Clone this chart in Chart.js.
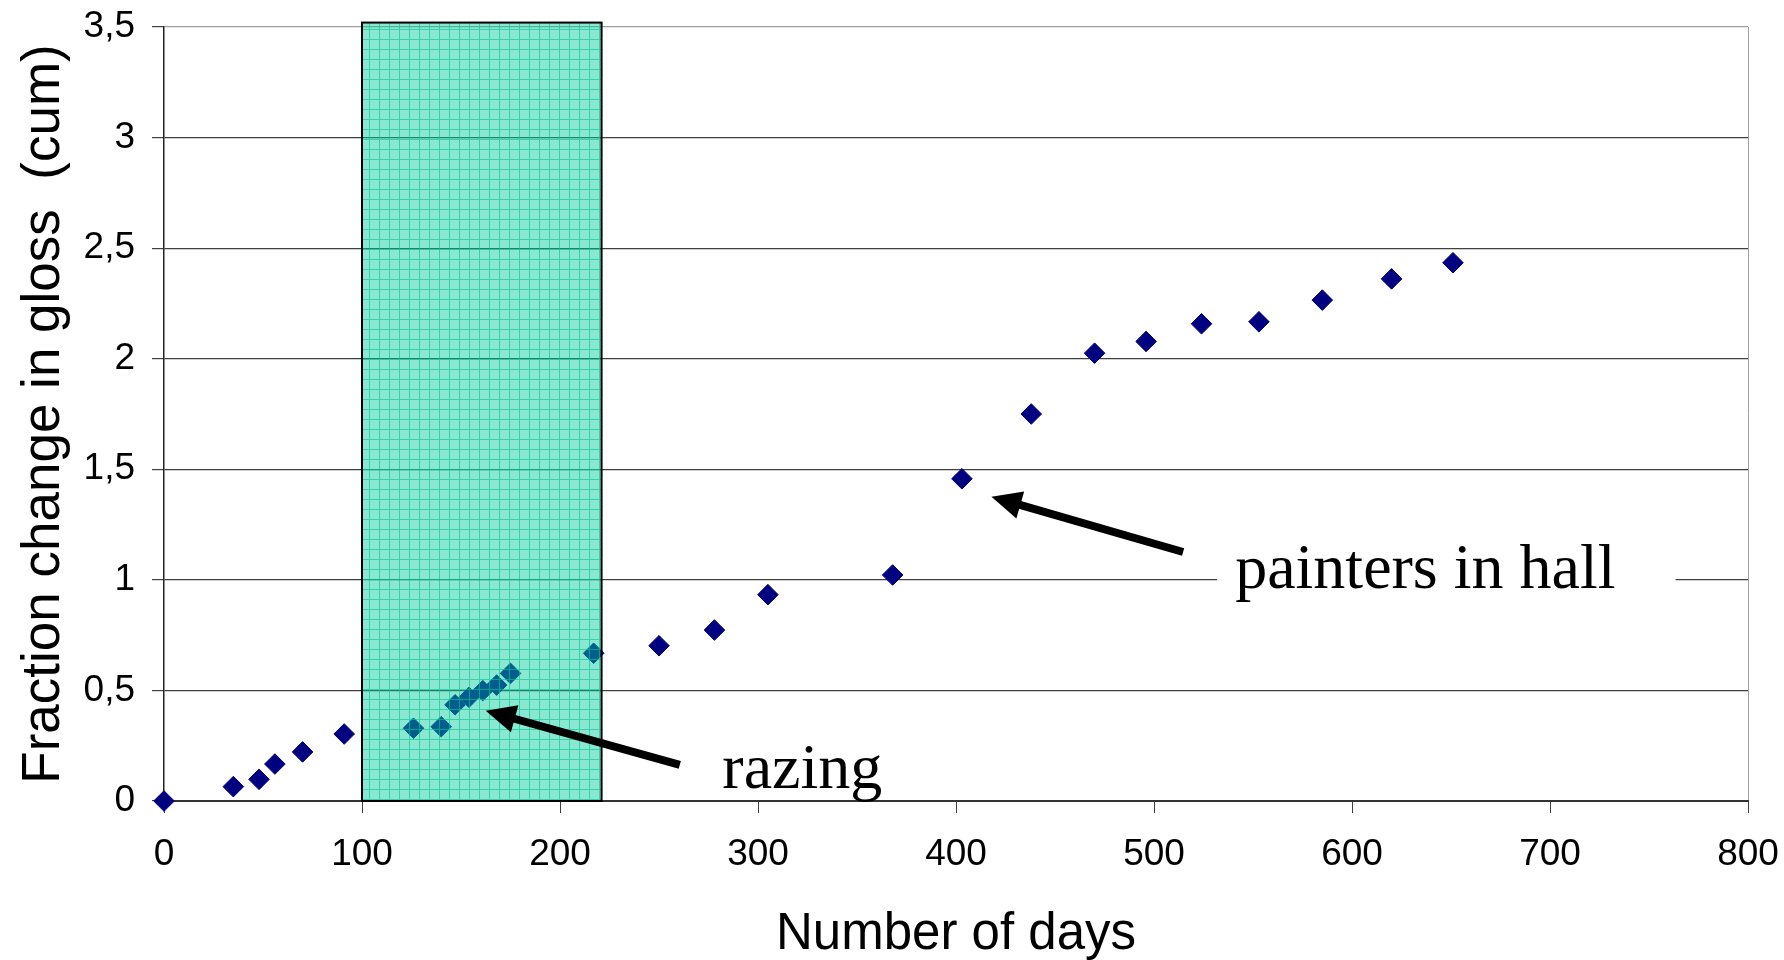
<!DOCTYPE html>
<html>
<head>
<meta charset="utf-8">
<script src="https://cdn.jsdelivr.net/npm/chart.js@4/dist/chart.umd.min.js"></script>
<style>
  html, body { margin: 0; padding: 0; background: #fff; }
  #wrap { width: 1784px; height: 960px; }
</style>
</head>
<body>
<div id="wrap"><canvas id="gloss" width="1784" height="960"></canvas></div>
<script>
// Gloss change vs. days, with the razing period shaded and two callouts.
const days = [0, 35, 48, 56, 70, 91, 126, 140, 147, 154, 161, 168, 175, 217, 250, 278, 305, 368, 403, 438, 470, 496, 524, 553, 585, 620, 651];
const gloss = [0, 0.065, 0.098, 0.167, 0.222, 0.303, 0.329, 0.336, 0.435, 0.469, 0.499, 0.524, 0.577, 0.668, 0.702, 0.773, 0.933, 1.022, 1.457, 1.75, 2.025, 2.078, 2.158, 2.167, 2.265, 2.361, 2.434];

const xTicks = [0, 100, 200, 300, 400, 500, 600, 700, 800];
const yTicks = [0, 0.5, 1, 1.5, 2, 2.5, 3, 3.5];

// shaded period (days) and its top (gloss units)
const shadeDays = [100, 221];
const shadeTop = 3.52;

// callouts: label, arrow tail [day, value], arrow tip [day, value], text anchor [day, value]
const notes = [
  { text: 'razing', tail: [260.5, 0.163], tip: [162.5, 0.408], at: [282, 0.06], size: 64, box: false },
  { text: 'painters in hall', tail: [514.7, 1.126], tip: [417.9, 1.376], at: [541, 0.965], size: 64, box: true }
];

const SANS = '"Liberation Sans", Arial, sans-serif';
const SERIF = '"Liberation Serif", "Times New Roman", serif';

function makePattern() {
  const p = document.createElement('canvas');
  p.width = 10; p.height = 10;
  const c = p.getContext('2d');
  c.fillStyle = 'rgba(0,203,156,0.46)';
  c.fillRect(0, 0, 10, 10);
  c.clearRect(0, 9, 10, 1); c.clearRect(9, 0, 1, 10);
  c.fillStyle = 'rgba(0,200,145,0.8)';
  c.fillRect(0, 9, 10, 1); c.fillRect(9, 0, 1, 9);
  return document.getElementById('gloss').getContext('2d').createPattern(p, 'repeat');
}

const shadePlugin = {
  id: 'shade',
  afterDatasetsDraw(chart) {
    const { ctx, scales: { x, y } } = chart;
    const l = x.getPixelForValue(shadeDays[0]), r = x.getPixelForValue(shadeDays[1]);
    const t = y.getPixelForValue(shadeTop), b = y.getPixelForValue(0);
    ctx.save();
    ctx.fillStyle = makePattern();
    ctx.fillRect(l, t, r - l, b - t);
    ctx.strokeStyle = '#000';
    ctx.lineWidth = 2;
    ctx.strokeRect(l, t, r - l, b - t);
    ctx.restore();
  }
};

const notesPlugin = {
  id: 'notes',
  afterDraw(chart) {
    const { ctx, scales: { x, y } } = chart;
    notes.forEach((n) => {
      const tx = x.getPixelForValue(n.at[0]), ty = y.getPixelForValue(n.at[1]);
      ctx.save();
      ctx.font = n.size + 'px ' + SERIF;
      const w = ctx.measureText(n.text).width;
      if (n.box) {
        ctx.fillStyle = '#fff';
        ctx.fillRect(tx - 18, ty - 52, w + 78, 70);
      }
      ctx.fillStyle = '#000';
      ctx.textBaseline = 'alphabetic';
      ctx.fillText(n.text, tx, ty);

      // arrow
      const x0 = x.getPixelForValue(n.tail[0]), y0 = y.getPixelForValue(n.tail[1]);
      const x1 = x.getPixelForValue(n.tip[0]), y1 = y.getPixelForValue(n.tip[1]);
      const a = Math.atan2(y1 - y0, x1 - x0);
      const hl = 30, hw = 14;
      const bx = x1 - hl * Math.cos(a), by = y1 - hl * Math.sin(a);
      ctx.strokeStyle = '#000';
      ctx.lineWidth = 8;
      ctx.beginPath(); ctx.moveTo(x0, y0); ctx.lineTo(bx + 4 * Math.cos(a), by + 4 * Math.sin(a)); ctx.stroke();
      ctx.fillStyle = '#000';
      ctx.beginPath();
      ctx.moveTo(x1, y1);
      ctx.lineTo(bx + hw * Math.sin(a), by - hw * Math.cos(a));
      ctx.lineTo(bx - hw * Math.sin(a), by + hw * Math.cos(a));
      ctx.closePath(); ctx.fill();
      ctx.restore();
    });
  }
};

new Chart(document.getElementById('gloss'), {
  type: 'scatter',
  data: {
    datasets: [{
      data: days.map((d, i) => ({ x: d, y: gloss[i] })),
      pointStyle: 'rectRot', pointRadius: 10.3, pointHoverRadius: 10.3,
      backgroundColor: '#000080', borderColor: '#000080', borderWidth: 1,
      clip: false
    }]
  },
  options: {
    responsive: false, animation: false, devicePixelRatio: 1,
    layout: { padding: { top: 27, right: 36, left: 0, bottom: 0 } },
    plugins: { legend: { display: false }, tooltip: { enabled: false } },
    scales: {
      x: {
        type: 'linear', min: 0, max: 800,
        afterBuildTicks: (s) => { s.ticks = xTicks.map((v) => ({ value: v })); },
        afterFit: (s) => { s.height = 159; s.paddingLeft = 0; s.paddingRight = 0; },
        grid: {
          drawOnChartArea: true, tickLength: 12,
          color: (c) => (c.tick && c.tick.value === 800 ? '#a0a0a0' : 'rgba(0,0,0,0)'),
          tickColor: '#404040'
        },
        border: { color: '#333', width: 2 },
        ticks: { color: '#000', font: { family: SANS, size: 37 }, padding: 20, maxRotation: 0 },
        title: { display: true, text: 'Number of days', color: '#000', font: { family: SANS, size: 51 }, padding: { top: 0, bottom: -6 } }
      },
      y: {
        type: 'linear', min: 0, max: 3.5,
        afterBuildTicks: (s) => { s.ticks = yTicks.map((v) => ({ value: v })); },
        afterFit: (s) => { s.width = 164; s.paddingTop = 0; s.paddingBottom = 0; },
        grid: {
          tickLength: 12, lineWidth: 1.2,
          color: (c) => (c.tick && c.tick.value === 3.5 ? '#a0a0a0' : '#404040'),
          tickColor: '#404040'
        },
        border: { color: '#222', width: 1.5 },
        ticks: { color: '#000', font: { family: SANS, size: 37 }, padding: 17, callback: (v) => String(v).replace('.', ',') },
        title: { display: true, text: 'Fraction change in gloss  (cum)', color: '#000', font: { family: SANS, size: 53 }, padding: { top: 13, bottom: 0 } }
      }
    }
  },
  plugins: [shadePlugin, notesPlugin]
});
</script>
</body>
</html>
